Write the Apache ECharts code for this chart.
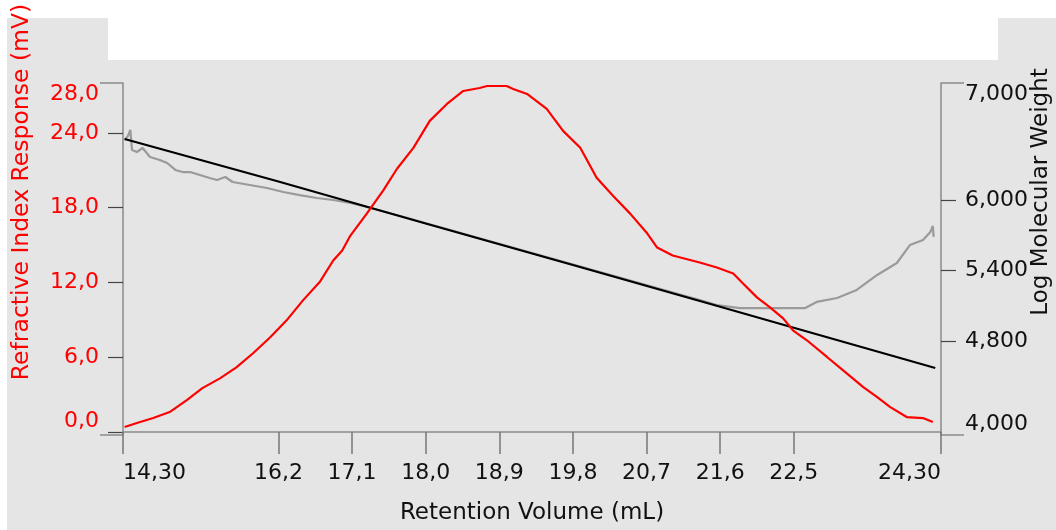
<!DOCTYPE html>
<html>
<head>
<meta charset="utf-8">
<script src="https://cdn.jsdelivr.net/npm/echarts@6/dist/echarts.min.js"></script>
<style>
  body { margin: 0; background: #fff; }
  #wrap { position: relative; width: 1056px; height: 530px; overflow: hidden; }
  #bg { position: absolute; left: 7px; top: 18px; right: 0; bottom: 0; background: #e5e5e5; }
  #band { position: absolute; left: 108px; top: 0; width: 890px; height: 60px; background: #fff; }
  #main { position: absolute; left: 0; top: 0; width: 1056px; height: 530px; }
</style>
</head>
<body>
<div id="wrap">
  <div id="bg"></div>
  <div id="band"></div>
  <div id="main"></div>
</div>
<script>
// tick values
var volTicks = [14.30, 16.2, 17.1, 18.0, 18.9, 19.8, 20.7, 21.6, 22.5, 24.30];
var riTicks = [0, 6, 12, 18, 24, 28];
var mwTicks = [4000, 4800, 5400, 6000, 7000];

// refractive index response (mV)
var riVolume = [14.32, 14.47, 14.67, 14.87, 15.08, 15.27, 15.49, 15.69, 15.89, 16.10,
  16.30, 16.50, 16.71, 16.87, 16.98, 17.08, 17.28, 17.48, 17.65, 17.85,
  18.05, 18.26, 18.46, 18.66, 18.75, 18.99, 19.07, 19.24, 19.48, 19.68,
  19.89, 20.09, 20.29, 20.50, 20.71, 20.83, 21.02, 21.35, 21.56, 21.76,
  21.88, 22.05, 22.21, 22.37, 22.49, 22.66, 22.91, 23.10, 23.35, 23.52,
  23.68, 23.88, 24.08, 24.20];
var riResponse = [0.40, 0.72, 1.12, 1.60, 2.56, 3.52, 4.32, 5.20, 6.32, 7.60,
  8.96, 10.56, 12.08, 13.76, 14.56, 15.76, 17.52, 19.36, 21.12, 22.80,
  24.96, 26.32, 27.36, 27.60, 27.76, 27.76, 27.52, 27.12, 25.92, 24.16,
  22.80, 20.40, 18.96, 17.52, 15.92, 14.80, 14.16, 13.60, 13.20, 12.72,
  11.92, 10.80, 10.00, 9.12, 8.16, 7.36, 6.00, 4.96, 3.60, 2.80,
  2.00, 1.20, 1.12, 0.80];

// calibration fit (log molecular weight)
var fitVolume = [14.32, 16.2, 18.0, 19.8, 21.6, 22.5, 24.23];
var fitWeight = [6523, 6160, 5803, 5449, 5093, 4914, 4571];

// measured molecular weight
var mwVolume = [14.32, 14.36, 14.39, 14.41, 14.47, 14.54, 14.63, 14.75, 14.84, 14.94,
  15.03, 15.12, 15.24, 15.36, 15.45, 15.55, 15.64, 15.85, 16.06, 16.26,
  16.46, 16.67, 16.87, 17.08, 17.28, 17.69, 18.30, 18.91, 19.52, 20.13,
  20.74, 21.35, 21.56, 21.84, 22.64, 22.78, 23.03, 23.27, 23.52, 23.76,
  23.92, 24.08, 24.17, 24.20, 24.21];
var mwWeight = [6514, 6548, 6600, 6429, 6412, 6446, 6369, 6344, 6318, 6259,
  6241, 6241, 6216, 6190, 6173, 6199, 6156, 6131, 6105, 6071,
  6045, 6020, 6003, 5977, 5943, 5867, 5747, 5628, 5509, 5389,
  5270, 5151, 5108, 5082, 5082, 5134, 5168, 5236, 5364, 5466,
  5619, 5662, 5730, 5781, 5688];

function pairs(xs, ys) {
  var out = [];
  for (var i = 0; i < xs.length; i++) out.push([xs[i], ys[i]]);
  return out;
}

var FONT = 'DejaVu Sans';
var myChart = echarts.init(document.getElementById('main'), null, { renderer: 'canvas' });

myChart.setOption({
  animation: false,
  backgroundColor: 'transparent',
  grid: { left: 123, right: 115, top: 83, bottom: 95, containLabel: false, outerBoundsMode: 'none' },
  xAxis: {
    type: 'value',
    min: 14.30,
    max: 24.30,
    name: 'Retention Volume (mL)',
    nameLocation: 'middle',
    nameGap: 67,
    nameTextStyle: { color: '#111', fontFamily: FONT, fontSize: 23 },
    splitLine: { show: false },
    axisLine: { lineStyle: { color: '#8a8a8a', width: 1.5 } },
    axisTick: { inside: false, length: 22, customValues: volTicks, lineStyle: { color: '#777', width: 1.5 } },
    axisLabel: {
      customValues: volTicks,
      margin: 27,
      color: '#111',
      fontFamily: FONT,
      fontSize: 22,
      alignMinLabel: 'left',
      alignMaxLabel: 'right',
      formatter: function (v) {
        var edge = Math.abs(v - 14.3) < 1e-6 || Math.abs(v - 24.3) < 1e-6;
        return v.toFixed(edge ? 2 : 1).replace('.', ',');
      }
    }
  },
  yAxis: [{
    type: 'value',
    position: 'left',
    min: -0.24,
    max: 28,
    splitLine: { show: false },
    axisLine: { show: true, lineStyle: { color: '#8a8a8a', width: 1.5 } },
    axisTick: { show: true, length: 15, customValues: [0, 6, 12, 18, 24], lineStyle: { color: '#444', width: 1.2 } },
    axisLabel: {
      customValues: riTicks,
      margin: 24,
      color: '#ff0000',
      fontFamily: FONT,
      fontSize: 22,
      verticalAlignMinLabel: 'bottom',
      verticalAlignMaxLabel: 'top',
      formatter: function (v) { return v.toFixed(1).replace('.', ','); }
    }
  }, {
    type: 'value',
    position: 'right',
    min: 4000,
    max: 7000,
    splitLine: { show: false },
    axisLine: { show: true, lineStyle: { color: '#8a8a8a', width: 1.5 } },
    axisTick: { show: true, length: 15, customValues: [4800, 5400, 6000], lineStyle: { color: '#444', width: 1.2 } },
    axisLabel: {
      customValues: mwTicks,
      margin: 24,
      color: '#111',
      fontFamily: FONT,
      fontSize: 22,
      verticalAlignMinLabel: 'bottom',
      verticalAlignMaxLabel: 'top',
      formatter: function (v) { return String(v).replace(/\B(?=(\d{3})+$)/, ','); }
    }
  }, {
    // longer end ticks on the left
    type: 'value',
    position: 'left',
    min: -0.24,
    max: 28,
    splitLine: { show: false },
    axisLine: { show: false },
    axisLabel: { show: false },
    axisTick: { show: true, length: 23, customValues: [-0.24, 28], lineStyle: { color: '#8a8a8a', width: 1.5 } }
  }, {
    // longer end ticks on the right
    type: 'value',
    position: 'right',
    min: 4000,
    max: 7000,
    splitLine: { show: false },
    axisLine: { show: false },
    axisLabel: { show: false },
    axisTick: { show: true, length: 23, customValues: [4000, 7000], lineStyle: { color: '#8a8a8a', width: 1.5 } }
  }],
  graphic: [{
    type: 'text',
    x: 22,
    y: 192,
    rotation: Math.PI / 2,
    style: { text: 'Refractive Index Response (mV)', fill: '#ff0000', font: '23.5px "DejaVu Sans"', align: 'center', verticalAlign: 'middle' }
  }, {
    type: 'text',
    x: 1041,
    y: 192,
    rotation: Math.PI / 2,
    style: { text: 'Log Molecular Weight', fill: '#111', font: '23px "DejaVu Sans"', align: 'center', verticalAlign: 'middle' }
  }],
  series: [{
    name: 'Molecular Weight',
    type: 'line',
    yAxisIndex: 1,
    showSymbol: false,
    data: pairs(mwVolume, mwWeight),
    lineStyle: { color: '#9a9a9a', width: 2.2 }
  }, {
    name: 'Calibration',
    type: 'line',
    yAxisIndex: 1,
    showSymbol: false,
    data: pairs(fitVolume, fitWeight),
    lineStyle: { color: '#000', width: 2.2 }
  }, {
    name: 'RI',
    type: 'line',
    yAxisIndex: 0,
    showSymbol: false,
    data: pairs(riVolume, riResponse),
    lineStyle: { color: '#ff0000', width: 2.2 }
  }]
});
</script>
</body>
</html>
